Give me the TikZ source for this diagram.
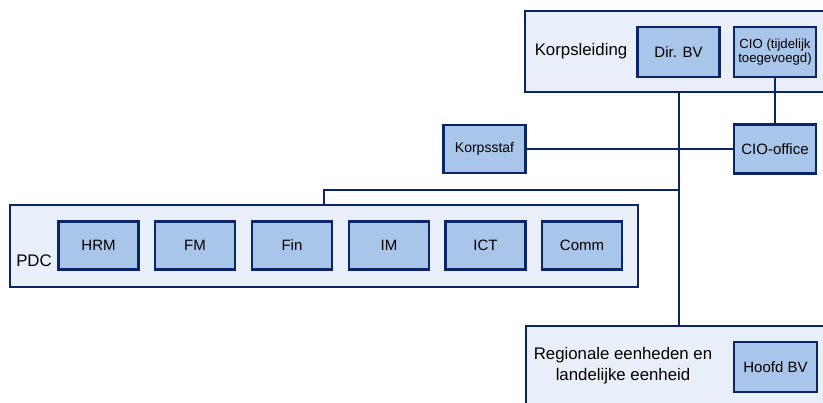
\documentclass[tikz,border=0pt]{standalone}
\usepackage{fontspec}
\setmainfont{Liberation Sans}
\definecolor{navy}{HTML}{0B2566}
\definecolor{outerfill}{HTML}{E9EFF9}
\definecolor{innerfill}{HTML}{A9C5E9}
\begin{document}
\begin{tikzpicture}[x=1pt,y=-1pt,
  outerbox/.style={draw=navy,fill=outerfill,line width=2pt},
  unit/.style={draw=navy,fill=innerfill,line width=2.6pt,minimum width=80pt,minimum height=48pt,inner sep=0pt,font=\fontsize{15}{17}\selectfont,align=center},
  conn/.style={draw=navy,line width=2pt},
  lbl/.style={font=\fontsize{16.8}{21}\selectfont,align=center,inner sep=0pt}]
\useasboundingbox (0,0) rectangle (823,403);
% outer containers
\draw[outerbox] (525,11) rectangle (832,92);
\draw[outerbox] (10,205) rectangle (638,287);
\draw[outerbox] (526,326) rectangle (832,412);
% trunk connectors
\draw[conn] (679,92) -- (679,326);
\draw[conn] (679,190) -- (324,190) -- (324,205);
% labels
\node[lbl] (korps) at (581,51) {Korpsleiding};
\node[lbl] (pdc) at (34,261) {PDC};
\node[lbl] (reg) at (623,366) {Regionale eenheden en\\landelijke eenheid};
% units
\node[unit,minimum width=82pt,minimum height=50pt] (dir) at (678.5,52) {Dir. BV};
\node[unit,minimum width=82pt,minimum height=50pt,font=\fontsize{13.2}{13.5}\selectfont] (cio) at (775,52) {CIO (tijdelijk\\toegevoegd)};
\node[unit,minimum width=82pt,minimum height=49pt] (ciooff) at (775,149) {CIO-office};
\node[unit,minimum width=82pt,minimum height=48pt,font=\fontsize{14}{16}\selectfont] (staf) at (484.5,149) {Korpsstaf};
\node[unit,minimum width=83pt,minimum height=50pt] (hoofd) at (775.5,367) {Hoofd BV};
\node[unit] (hrm) at (98.5,245.5) {HRM};
\node[unit] (fm) at (195,245.5) {FM};
\node[unit] (fin) at (292,245.5) {Fin};
\node[unit] (im) at (389,245.5) {IM};
\node[unit] (ict) at (485.5,245.5) {ICT};
\node[unit] (comm) at (582,245.5) {Comm};
% connectors between units
\draw[conn] (staf.east) -- (ciooff.west);
\draw[conn] (cio.south) -- (ciooff.north);
\end{tikzpicture}
\end{document}
